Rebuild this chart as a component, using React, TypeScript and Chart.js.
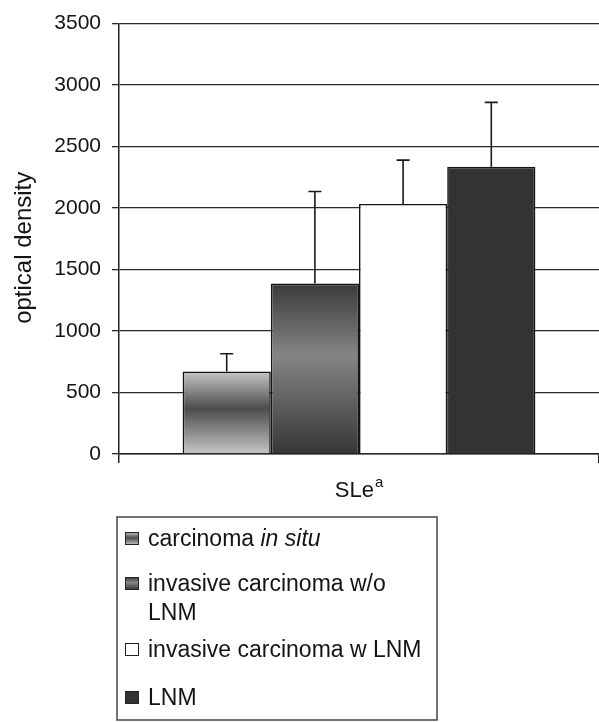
import React, { useEffect, useRef } from 'react';
import { Chart, registerables } from 'chart.js';

Chart.register(...registerables);

// ---------------- data ----------------
const categories = ['SLe'];
const categorySuperscript = 'a';
const seriesNames = [
  'carcinoma in situ',
  'invasive carcinoma w/o LNM',
  'invasive carcinoma w LNM',
  'LNM',
];
const seriesItalic = ['in situ', '', '', ''];
const seriesValues = [670, 1386, 2033, 2336];
const seriesErrors = [145, 749, 357, 523];
const yMin = 0;
const yMax = 3500;
const yStep = 500;
const yTitle = 'optical density';

// ---------------- styles ----------------
const FONT = '"Liberation Sans", Arial, Helvetica, sans-serif';
const TEXT = '#141414';
type Fill = string | Array<[number, string]>;
const seriesFills: Fill[] = [
  [[0, '#c6c6c6'], [0.45, '#4c4c4c'], [1, '#c6c6c6']],
  [[0, '#3a3a3a'], [0.42, '#858585'], [1, '#363636']],
  '#ffffff',
  '#333333',
];

function makeFill(ctx: CanvasRenderingContext2D, fill: Fill, top: number, bottom: number) {
  if (typeof fill === 'string') return fill;
  const g = ctx.createLinearGradient(0, top, 0, bottom);
  fill.forEach(([o, c]) => g.addColorStop(o, c));
  return g;
}

const errorBarPlugin = {
  id: 'errorBars',
  afterDatasetsDraw(chart: any) {
    const ctx: CanvasRenderingContext2D = chart.ctx;
    const ys = chart.scales.y;
    ctx.save();
    ctx.strokeStyle = '#1a1a1a';
    ctx.lineWidth = 1.6;
    chart.data.datasets.forEach((ds: any, i: number) => {
      const meta = chart.getDatasetMeta(i);
      meta.data.forEach((bar: any, j: number) => {
        const v = ds.data[j];
        const e = ds.errors[j];
        const x = bar.x;
        const yTop = ys.getPixelForValue(v);
        const yErr = ys.getPixelForValue(v + e);
        ctx.beginPath();
        ctx.moveTo(x, yTop);
        ctx.lineTo(x, yErr);
        ctx.moveTo(x - 6.5, yErr);
        ctx.lineTo(x + 6.5, yErr);
        ctx.stroke();
      });
    });
    ctx.restore();
  },
};

const yTitlePlugin = {
  id: 'yTitle',
  afterDraw(chart: any) {
    const ctx: CanvasRenderingContext2D = chart.ctx;
    const ca = chart.chartArea;
    ctx.save();
    ctx.fillStyle = TEXT;
    ctx.font = `24px ${FONT}`;
    ctx.textAlign = 'center';
    ctx.textBaseline = 'middle';
    ctx.translate(24, (ca.top + ca.bottom) / 2 + 9);
    ctx.rotate(-Math.PI / 2);
    ctx.fillText(yTitle, 0, 0);
    ctx.restore();
  },
};

const xLabelPlugin = {
  id: 'xLabel',
  afterDraw(chart: any) {
    const ctx: CanvasRenderingContext2D = chart.ctx;
    const xs = chart.scales.x;
    const ca = chart.chartArea;
    ctx.save();
    ctx.fillStyle = TEXT;
    ctx.textBaseline = 'alphabetic';
    ctx.textAlign = 'left';
    categories.forEach((c, i) => {
      const cx = xs.getPixelForValue(i);
      ctx.font = `22px ${FONT}`;
      const w1 = ctx.measureText(c).width;
      ctx.font = `15px ${FONT}`;
      const w2 = ctx.measureText(categorySuperscript).width;
      const x0 = cx - (w1 + w2 + 1) / 2;
      const base = ca.bottom + 43;
      ctx.font = `22px ${FONT}`;
      ctx.fillText(c, x0, base);
      ctx.font = `15px ${FONT}`;
      ctx.fillText(categorySuperscript, x0 + w1 + 1, base - 10);
    });
    ctx.restore();
  },
};

const legendPlugin = {
  id: 'boxLegend',
  afterDraw(chart: any) {
    const ctx: CanvasRenderingContext2D = chart.ctx;
    const box = { left: 117, top: 517, right: 437, bottom: 720 };
    const textX = 148;
    const maxW = box.right - textX - 3;
    const fs = 23;
    const lineGap = 29;
    const itemBaselines = [546, 591, 657, 705];
    const normal = `${fs}px ${FONT}`;
    const italic = `italic ${fs}px ${FONT}`;
    ctx.save();
    ctx.fillStyle = '#ffffff';
    ctx.fillRect(box.left, box.top, box.right - box.left, box.bottom - box.top);
    ctx.strokeStyle = '#454545';
    ctx.lineWidth = 1.5;
    ctx.strokeRect(box.left, box.top, box.right - box.left, box.bottom - box.top);
    ctx.textBaseline = 'alphabetic';
    ctx.textAlign = 'left';
    seriesNames.forEach((name, i) => {
      const it = seriesItalic[i];
      const tokens: Array<{ t: string; it: boolean }> = [];
      if (it && name.endsWith(it)) {
        const pre = name.slice(0, name.length - it.length).trim();
        pre.split(' ').filter(Boolean).forEach((t) => tokens.push({ t, it: false }));
        it.split(' ').forEach((t) => tokens.push({ t, it: true }));
      } else {
        name.split(' ').forEach((t) => tokens.push({ t, it: false }));
      }
      const measure = (tk: { t: string; it: boolean }) => {
        ctx.font = tk.it ? italic : normal;
        return ctx.measureText(tk.t).width;
      };
      ctx.font = normal;
      const sp = ctx.measureText(' ').width;
      const lines: Array<Array<{ t: string; it: boolean }>> = [[]];
      let cur = 0;
      tokens.forEach((tk) => {
        const w = measure(tk);
        const line = lines[lines.length - 1];
        const add = line.length ? sp + w : w;
        if (line.length && cur + add > maxW) {
          lines.push([tk]);
          cur = w;
        } else {
          line.push(tk);
          cur += add;
        }
      });
      const base = itemBaselines[i];
      const sx = 125, sy = base - 14, sw = 14, sh = 13;
      ctx.fillStyle = makeFill(ctx, seriesFills[i], sy, sy + sh) as any;
      ctx.fillRect(sx, sy, sw, sh);
      ctx.strokeStyle = '#222';
      ctx.lineWidth = 1;
      ctx.strokeRect(sx + 0.5, sy + 0.5, sw - 1, sh - 1);
      ctx.fillStyle = TEXT;
      lines.forEach((line, li) => {
        let x = textX;
        const y = base + li * lineGap;
        line.forEach((tk, ti) => {
          if (ti > 0) x += sp;
          ctx.font = tk.it ? italic : normal;
          ctx.fillText(tk.t, x, y);
          x += ctx.measureText(tk.t).width;
        });
      });
    });
    ctx.restore();
  },
};

export default function App() {
  const ref = useRef<HTMLCanvasElement | null>(null);

  useEffect(() => {
    if (!ref.current) return;
    const datasets = seriesNames.map((name, i) => ({
      label: name,
      data: [seriesValues[i]],
      errors: [seriesErrors[i]],
      backgroundColor: (c: any) => {
        const chart = c.chart;
        const ys = chart.scales?.y;
        if (!ys || !chart.chartArea) return typeof seriesFills[i] === 'string' ? seriesFills[i] : '#888';
        const v = seriesValues[i];
        return makeFill(chart.ctx, seriesFills[i], ys.getPixelForValue(v), ys.getPixelForValue(0));
      },
      borderColor: '#151515',
      borderWidth: 1.6,
      borderSkipped: 'start',
      categoryPercentage: 0.735,
      barPercentage: 1.0,
    }));

    const chart = new Chart(ref.current, {
      type: 'bar',
      data: { labels: categories, datasets: datasets as any },
      options: {
        responsive: false,
        animation: false,
        layout: { padding: { top: 19, right: -2, bottom: 0, left: 0 } },
        plugins: {
          legend: { display: false },
          tooltip: { enabled: false },
        },
        scales: {
          x: {
            grid: {
              display: true,
              drawOnChartArea: false,
              drawTicks: true,
              tickLength: 9,
              color: '#222',
              lineWidth: 1.5,
              offset: true,
            },
            border: { display: true, color: '#222', width: 1.5 },
            ticks: { display: false },
            afterFit: (s: any) => {
              s.height = 268;
            },
          },
          y: {
            min: yMin,
            max: yMax,
            ticks: {
              stepSize: yStep,
              color: TEXT,
              font: { family: FONT, size: 21 },
              padding: 11,
              callback: (v: any) => String(v),
            },
            grid: {
              color: '#2a2a2a',
              lineWidth: 1.3,
              tickLength: 7,
              drawTicks: true,
            },
            border: { display: true, color: '#222', width: 1.5 },
            title: { display: false, text: yTitle },
            afterFit: (s: any) => {
              s.width = 119;
            },
          },
        },
      },
      plugins: [errorBarPlugin, xLabelPlugin, yTitlePlugin, legendPlugin],
    });
    return () => chart.destroy();
  }, []);

  return (
    <div style={{ position: 'absolute', left: 0, top: 0, width: 599, height: 722, background: '#fff' }}>
      <canvas ref={ref} width={599} height={722} style={{ display: 'block' }} />
    </div>
  );
}
